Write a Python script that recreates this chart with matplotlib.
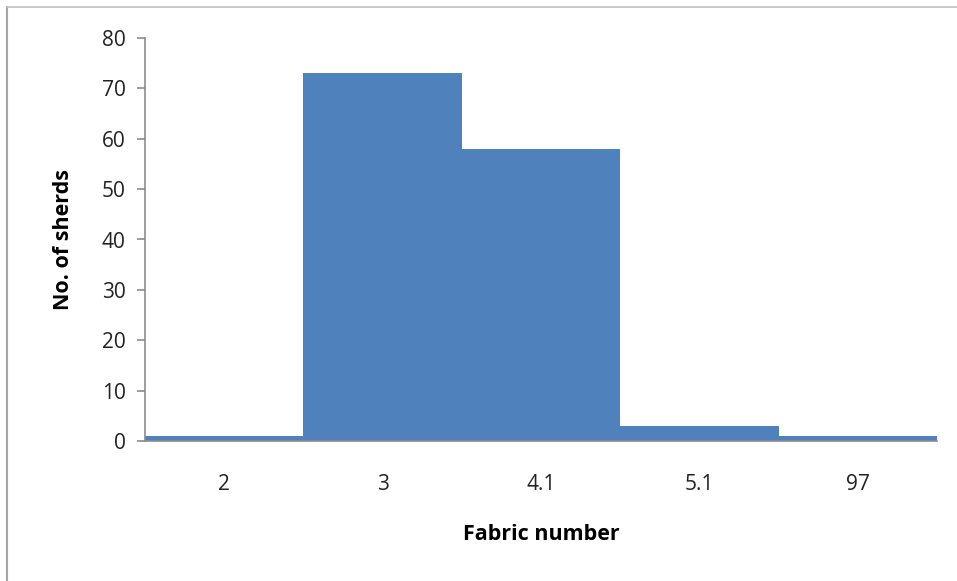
import matplotlib.pyplot as plt
from matplotlib.lines import Line2D

# Sherd counts per fabric
fabrics = ['2', '3', '4.1', '5.1', '97']
sherds = [1, 73, 58, 3, 1]

plt.rcParams['font.family'] = ['Open Sans', 'DejaVu Sans']

fig = plt.figure(figsize=(9.57, 5.81), dpi=100)
ax = fig.add_axes([145 / 957, 1 - 441 / 581, (937 - 145) / 957, (441 - 38) / 581])

x = range(len(fabrics))
ax.bar(x, sherds, width=1.0, color='#4F81BD', linewidth=0)

ax.set_xlim(-0.5, len(fabrics) - 0.5)
ax.set_ylim(0, 80)
ax.set_yticks(range(0, 81, 10))
ax.set_xticks(list(x))
ax.set_xticklabels(fabrics)

for s in ['top', 'right']:
    ax.spines[s].set_visible(False)
for s in ['left', 'bottom']:
    ax.spines[s].set_color('#8C8C8C')
    ax.spines[s].set_linewidth(1.2)

ax.tick_params(axis='y', length=6, width=1.2, color='#8C8C8C', labelsize=15, pad=8, labelcolor='#222222')
ax.tick_params(axis='x', length=0, labelsize=15, pad=24, labelcolor='#222222')

ax.set_ylabel('No. of sherds', fontsize=15.5, fontweight='bold', labelpad=20)
ax.set_xlabel('Fabric number', fontsize=15.5, fontweight='bold', labelpad=21)

# Outer frame lines (left and top)
fig.add_artist(Line2D([7 / 957, 7 / 957], [0, 1 - 7 / 581], transform=fig.transFigure, color='#A6A6A6', lw=1.5))
fig.add_artist(Line2D([7 / 957, 1], [1 - 7 / 581, 1 - 7 / 581], transform=fig.transFigure, color='#BFBFBF', lw=1.2))

fig.savefig('out.png', dpi=100)
